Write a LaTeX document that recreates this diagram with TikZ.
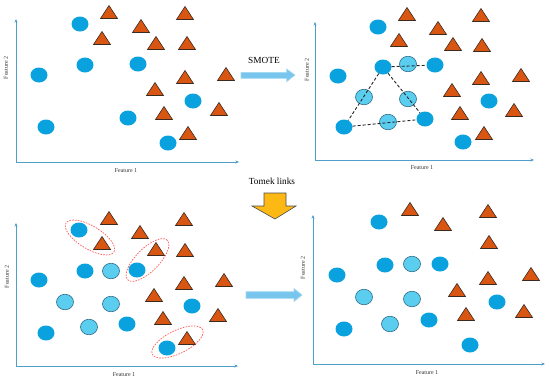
\documentclass[tikz,border=0pt]{standalone}
\usepackage{fontspec}
\setmainfont{Liberation Serif}
\usetikzlibrary{shapes.geometric,arrows.meta}
\definecolor{blueC}{HTML}{0AA2DE}
\definecolor{lightC}{HTML}{5BCEF0}
\definecolor{lightEdge}{HTML}{2F6A88}
\definecolor{triC}{HTML}{D95512}
\definecolor{triEdge}{HTML}{3A2A20}
\definecolor{axisC}{HTML}{4FA0C8}
\definecolor{arrowC}{HTML}{78C6EE}
\definecolor{arrowEdge}{HTML}{A5D8F3}
\definecolor{yellowC}{HTML}{FDB913}
\definecolor{tomekC}{HTML}{FF5A5A}
\begin{document}
\begin{tikzpicture}[x=1pt,y=-1pt,
  blob/.style={ellipse,fill=blueC,inner sep=0pt,minimum width=17pt,minimum height=15pt},
  synth/.style={ellipse,fill=lightC,draw=lightEdge,line width=0.6pt,inner sep=0pt,minimum width=17pt,minimum height=15.5pt},
  tristyle/.style={fill=triC,draw=triEdge,line width=0.6pt,line join=miter},
  tri/.pic={\path[tristyle] (0,-6.5) -- (8.5,6.5) -- (-8.5,6.5) -- cycle;},
  axis/.style={draw=axisC,line width=0.8pt,-{Stealth[length=3.5pt,width=3pt]}},
  flab/.style={font=\fontsize{6}{7}\selectfont,text=black!80,inner sep=0pt},
  link/.style={draw=black!85,line width=0.9pt,dash pattern=on 3pt off 2pt},
  tomek/.style={ellipse,draw=tomekC,line width=0.7pt,dash pattern=on 1.6pt off 1.2pt,inner sep=0pt,minimum width=56pt,minimum height=23pt},
  bigarrow/.style={fill=arrowC,draw=arrowEdge,line width=0.6pt},
  yarrow/.style={fill=yellowC,draw=black!70,line width=0.6pt,line join=miter},
  title/.style={font=\fontsize{9.3}{11}\selectfont,inner sep=0pt}]
\useasboundingbox (0,0) rectangle (550,381);

% ---------- Panel 1 (top left) ----------
\coordinate (o1) at (16,162);
\coordinate (y1) at (16,19);
\coordinate (x1) at (239,162);
\draw[axis] (o1) -- (y1);
\draw[axis] (o1) -- (x1);
\node[flab,rotate=90] (l1y) at (6,68) {Feature 2};
\node[flab] (l1x) at (126,171) {Feature 1};
\foreach \p [count=\i] in {(80,24),(85,65),(138,64),(39,75),(193,101),(128,118),(46,127),(168,143)}
  \node[blob] (p1c\i) at \p {};
\foreach \p [count=\i] in {(109,12),(185,13),(141,26),(102,38),(156,43),(187,43),(185,77),(226,74),(155,89),(164,113),(219,109),(188,133)}
  \pic (p1t\i) at \p {tri};

% ---------- Panel 2 (top right) ----------
\coordinate (o2) at (315,160);
\coordinate (y2) at (315,22);
\coordinate (x2) at (534,160);
\draw[axis] (o2) -- (y2);
\draw[axis] (o2) -- (x2);
\node[flab,rotate=90] (l2y) at (307,70) {Feature 2};
\node[flab] (l2x) at (422,168) {Feature 1};
\foreach \p [count=\i] in {(378,27),(338,76),(489,101),(463,142)}
  \node[blob] (p2c\i) at \p {};
\node[blob] (pa) at (383,67) {};
\node[blob] (pb) at (435,65) {};
\node[blob] (pc) at (425,119) {};
\node[blob] (pd) at (344,127) {};
\node[synth] (s1) at (408,64) {};
\node[synth] (s2) at (364,97) {};
\node[synth] (s3) at (408,99) {};
\node[synth] (s4) at (388,122) {};
\draw[link] (pa) -- (pb);
\draw[link] (pa) -- (pc);
\draw[link] (pa) -- (pd);
\draw[link] (pd) -- (pc);
\foreach \p [count=\i] in {(407,14),(481,15),(438,28),(399,40),(453,44),(482,45),(481,78),(521,75),(452,90),(460,113),(514,110),(484,133)}
  \pic (p2t\i) at \p {tri};

% ---------- Panel 3 (bottom left) ----------
\coordinate (o3) at (16,366);
\coordinate (y3) at (16,223);
\coordinate (x3) at (238,366);
\draw[axis] (o3) -- (y3);
\draw[axis] (o3) -- (x3);
\node[flab,rotate=90] (l3y) at (7,277) {Feature 2};
\node[flab] (l3x) at (124,375) {Feature 1};
\foreach \p [count=\i] in {(79,230),(85,271),(137,270),(39,280),(192,306),(127,324),(46,333),(167,348)}
  \node[blob] (p3c\i) at \p {};
\foreach \p [count=\i] in {(111,271),(65,302),(111,304),(89,327)}
  \node[synth] (p3s\i) at \p {};
\foreach \p [count=\i] in {(109,218),(184,219),(140,232),(102,243),(156,249),(185,250),(184,283),(224,280),(154,295),(163,318),(218,315),(187,338)}
  \pic (p3t\i) at \p {tri};
\node[tomek,rotate=-31] (e1) at (90,237.5) {};
\node[tomek,rotate=45] (e2) at (147.5,260) {};
\node[tomek,rotate=26] (e3) at (177.5,342) {};

% ---------- Panel 4 (bottom right) ----------
\coordinate (o4) at (313,364);
\coordinate (y4) at (313,215);
\coordinate (x4) at (545,364);
\draw[axis] (o4) -- (y4);
\draw[axis] (o4) -- (x4);
\node[flab,rotate=90] (l4y) at (303,268) {Feature 2};
\node[flab] (l4x) at (427,373) {Feature 1};
\foreach \p [count=\i] in {(379,222),(385,265),(440,264),(337,275),(497,302),(429,320),(344,329),(470,345)}
  \node[blob] (p4c\i) at \p {};
\foreach \p [count=\i] in {(412,264),(364,297),(412,299),(390,324)}
  \node[synth] (p4s\i) at \p {};
\foreach \p [count=\i] in {(410,209),(488,211),(443,224),(489,242),(488,278),(531,274),(457,290),(466,314),(524,311)}
  \pic (p4t\i) at \p {tri};

% ---------- Process arrows ----------
\node[title] (smote) at (264,60) {SMOTE};
\path[bigarrow] (241,72.3) -- (286.7,72.3) -- (286.7,69) -- (295,75) -- (286.7,81.7) -- (286.7,78.3) -- (241,78.3) -- cycle;

\node[title] (tomektxt) at (272,181) {Tomek links};
\path[yarrow] (264,193) -- (286,193) -- (286,206) -- (296,206) -- (275,219) -- (252,206) -- (264,206) -- cycle;

\path[bigarrow] (246,291.7) -- (294,291.7) -- (294,288.5) -- (302,295) -- (294,301.5) -- (294,298.3) -- (246,298.3) -- cycle;
\end{tikzpicture}
\end{document}
